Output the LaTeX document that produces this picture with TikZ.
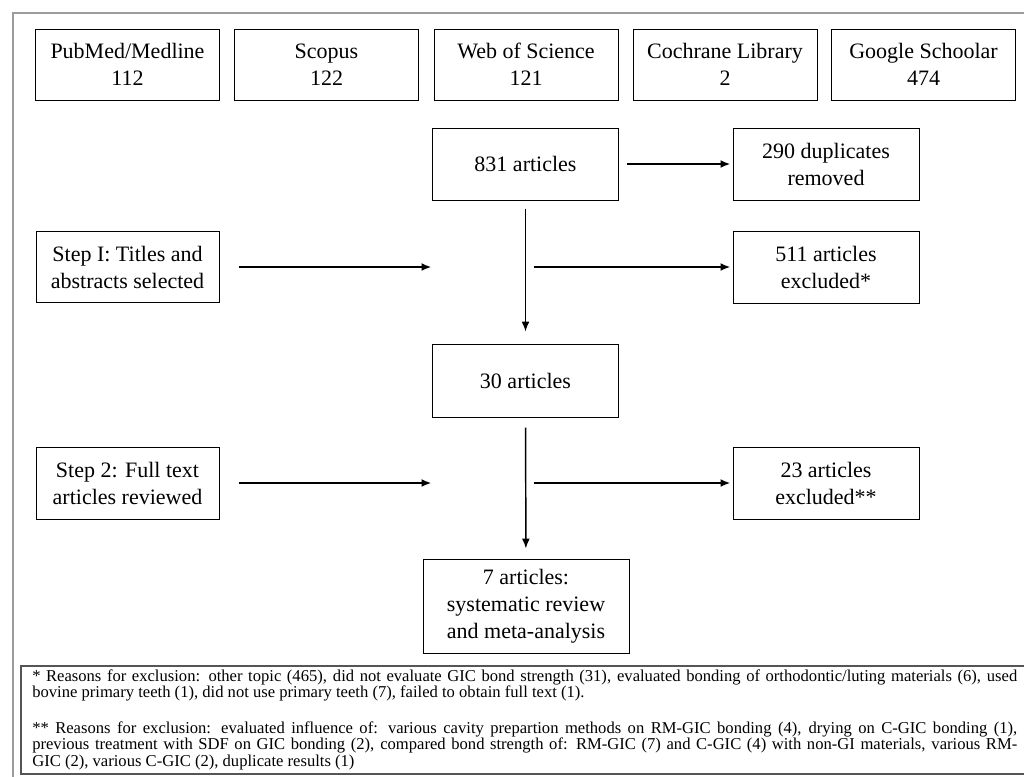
\documentclass[tikz,border=0pt]{standalone}
\usepackage{fontspec}
\setmainfont{Liberation Serif}
\newfontfamily\timesfam{Liberation Serif}
\usetikzlibrary{arrows.meta}
\newcommand\boxfont{\timesfam\fontsize{16.5}{20.25}\selectfont}
\newcommand\notefont{\timesfam\fontsize{12.45}{11.25}\selectfont}
\definecolor{framegray}{HTML}{9C9C9C}
\definecolor{notegray}{HTML}{555555}
\begin{document}
\begin{tikzpicture}[x=0.75pt,y=-0.75pt,
  box/.style={draw=black, line width=0.75pt, inner sep=0pt, align=center, font=\boxfont,
    minimum width=184*0.75pt, minimum height=72*0.75pt},
  wide/.style={minimum width=186*0.75pt},
  arr/.style={line width=1.5pt, -{Latex[length=7.5pt,width=6pt]}},
  varr/.style={line width=1.1pt, -{Latex[length=7.5pt,width=6pt]}},
]
\useasboundingbox (0,0) rectangle (1024,776);
\clip (0,0) rectangle (1024,776);
\fill[white] (0,0) rectangle (1024,776);
% outer frame
\draw[framegray, line width=1.1pt] (13,790) -- (13,13) -- (1040,13);
% databases
\node[box, minimum height=71*0.75pt] (pm) at (127.5,64.5) {PubMed/Medline\\112};
\node[box, minimum height=71*0.75pt] (sc) at (326.5,64.5) {Scopus\\122};
\node[box, minimum height=71*0.75pt] (ws) at (526,64.5) {Web of Science\\121};
\node[box, minimum height=71*0.75pt] (cl) at (725,64.5) {Cochrane Library\\2};
\node[box, minimum height=71*0.75pt] (gs) at (923.5,64.5) {Google Schoolar\\474};
% flow
\node[box, wide] (a831) at (525.5,164) {831 articles};
\node[box, wide] (dup) at (826,164) {290 duplicates\\removed};
\node[box, minimum width=183*0.75pt, minimum height=71*0.75pt] (step1) at (127.5,267) {Step I: Titles and\\abstracts selected};
\node[box, wide] (ex511) at (826,267) {511 articles\\excluded*};
\node[box, wide, minimum height=73*0.75pt] (a30) at (525.5,380.5) {30 articles};
\node[box, minimum width=183*0.75pt] (step2) at (127.5,483) {Step 2: Full text\\articles reviewed};
\node[box, wide] (ex23) at (826,483) {23 articles\\excluded**};
\node[box, minimum width=206*0.75pt, minimum height=94*0.75pt] (a7) at (526,606) {7 articles:\\systematic review\\and meta-analysis};
\coordinate (j1) at (525.5,267);
\coordinate (j2) at (525.5,483);
% connectors
\draw[arr, shorten <=8*0.75pt, shorten >=2*0.75pt] (a831) -- (dup);
\draw[varr, shorten <=8*0.75pt, shorten >=12*0.75pt] (a831) -- (a30);
\draw[arr, shorten <=19*0.75pt, shorten >=94*0.75pt] (step1) -- (j1);
\draw[arr, shorten <=8*0.75pt, shorten >=2*0.75pt] (j1) -- (ex511);
\draw[varr, shorten <=10*0.75pt, shorten >=10*0.75pt] (a30) -- (a7);
\draw[arr, shorten <=19*0.75pt, shorten >=94*0.75pt] (step2) -- (j2);
\draw[arr, shorten <=8*0.75pt, shorten >=2*0.75pt] (j2) -- (ex23);
% footnote box
\draw[notegray, line width=1.5pt] (1040,666) -- (21,666) -- (21,774) -- (1040,774);
\node[anchor=base west, inner sep=0pt, font=\notefont] (note1) at (32,681) {\parbox[t]{738.75pt}{\notefont
\makebox[\linewidth][s]{* Reasons for exclusion: other topic (465), did not evaluate GIC bond strength (31), evaluated bonding of orthodontic/luting materials (6), used}\\
bovine primary teeth (1), did not use primary teeth (7), failed to obtain full text (1).}};
\node[anchor=base west, inner sep=0pt, font=\notefont] (note2) at (32,733) {\parbox[t]{738.75pt}{\notefont
\makebox[\linewidth][s]{** Reasons for exclusion: evaluated influence of: various cavity prepartion methods on RM-GIC bonding (4), drying on C-GIC bonding (1),}\\
\makebox[\linewidth][s]{previous treatment with SDF on GIC bonding (2), compared bond strength of: RM-GIC (7) and C-GIC (4) with non-GI materials, various RM-}\\
GIC (2), various C-GIC (2), duplicate results (1)}};
\end{tikzpicture}
\end{document}
